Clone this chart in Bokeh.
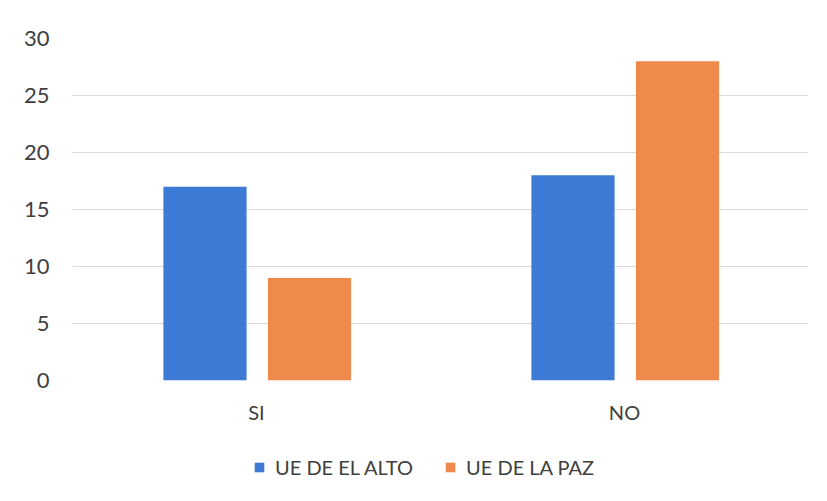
from bokeh.plotting import figure
from bokeh.layouts import column
from bokeh.models import FactorRange, Range1d, Legend, LegendItem, ColumnDataSource, FixedTicker
from bokeh.transform import dodge
from bokeh.embed import file_html
from bokeh.resources import INLINE

categories = ["SI", "NO"]
el_alto = [17, 18]
la_paz = [9, 28]
series_names = ["UE DE EL ALTO", "UE DE LA PAZ"]
y_ticks = [0, 5, 10, 15, 20, 25, 30]

BLUE = "#3d7ad6"
ORANGE = "#f08a4c"
TEXT = "#404040"
FONT = "Lato"

src = ColumnDataSource(dict(cat=categories, alto=el_alto, paz=la_paz))

p = figure(width=819, height=426, x_range=FactorRange(*categories), y_range=Range1d(0, 30),
           output_backend="svg", toolbar_location=None,
           min_border_left=72, min_border_right=11, min_border_top=38, min_border_bottom=45)

r1 = p.vbar(x=dodge("cat", -0.14, range=p.x_range), top="alto", width=0.226, source=src,
            fill_color=BLUE, line_color=None)
r2 = p.vbar(x=dodge("cat", 0.144, range=p.x_range), top="paz", width=0.226, source=src,
            fill_color=ORANGE, line_color=None)

p.outline_line_color = None
p.xgrid.grid_line_color = None
p.ygrid.grid_line_color = "#d9d9d9"
p.ygrid.grid_line_width = 1

p.yaxis.ticker = FixedTicker(ticks=y_ticks)
for ax in (p.xaxis[0], p.yaxis[0]):
    ax.axis_line_color = None
    ax.major_tick_line_color = None
    ax.minor_tick_line_color = None
    ax.major_label_text_font = FONT
    ax.major_label_text_font_size = "20px"
    ax.major_label_text_color = TEXT
p.yaxis.major_label_text_font_size = "22px"
p.yaxis.major_label_standoff = 17
p.xaxis.major_label_standoff = 13

# legend strip below the chart
lf = figure(width=819, height=70, x_range=Range1d(0, 1), y_range=Range1d(0, 1),
            output_backend="svg", toolbar_location=None, x_axis_type=None, y_axis_type=None,
            min_border=0)
lf.outline_line_color = None
lf.xgrid.grid_line_color = None
lf.ygrid.grid_line_color = None
dummy = ColumnDataSource(dict(x=[-10], top=[0]))
l1 = lf.vbar(x="x", top="top", width=0.1, source=dummy, fill_color=BLUE, line_color=None)
l2 = lf.vbar(x="x", top="top", width=0.1, source=dummy, fill_color=ORANGE, line_color=None)

legend = Legend(items=[LegendItem(label=series_names[0], renderers=[l1]),
                       LegendItem(label=series_names[1], renderers=[l2])],
                orientation="horizontal", location=(181, 17),
                glyph_width=12, glyph_height=12, label_standoff=10, spacing=31,
                label_text_font=FONT, label_text_font_size="20px", label_text_color=TEXT,
                border_line_color=None, background_fill_alpha=0, margin=0, padding=0)
lf.add_layout(legend, "center")

layout = column(p, lf, spacing=0)
open("out.html", "w").write(file_html(layout, INLINE))
